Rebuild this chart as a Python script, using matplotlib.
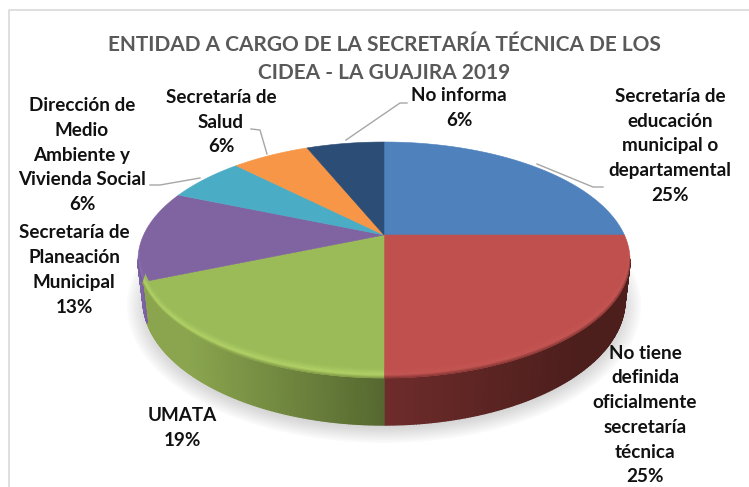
import numpy as np
import matplotlib
matplotlib.use("Agg")
import matplotlib.pyplot as plt
from matplotlib.patches import Polygon, Ellipse

# datos (16 CIDEA, en orden horario desde arriba)
categorias = [
    "Secretaría de\neducación\nmunicipal o\ndepartamental",
    "No tiene\ndefinida\noficialmente\nsecretaría\ntécnica",
    "UMATA",
    "Secretaría de\nPlaneación\nMunicipal",
    "Dirección de\nMedio\nAmbiente y\nVivienda Social",
    "Secretaría de\nSalud",
    "No informa",
]
valores = [4, 4, 3, 2, 1, 1, 1]
colores = ["#4f81bd", "#c0504d", "#9bbb59", "#8064a2", "#4bacc6", "#f79646", "#2c4d75"]
titulo = "ENTIDAD A CARGO DE LA SECRETARÍA TÉCNICA DE LOS\nCIDEA - LA GUAJIRA 2019"

# posicion de cada etiqueta (centro, en pixeles)
pos_etiquetas = [(670, 146), (645, 415), (182, 428), (74, 270), (82, 155), (221, 122), (459, 108)]
guias = [
    [(537, 164), (593, 187), (603, 187)],
    None,
    None,
    None,
    [(200, 178), (160, 185), (150, 185)],
    [(267, 154), (260, 130), (251, 129)],
    [(346, 140), (400, 103), (407, 103)],
]

CX, CY, RX, RY = 384, 260, 246, 118
CY_B, RX_B, RY_B = 300, 241, 125
A = 25 / 118  # corrimiento del centro por la perspectiva


def proyectar(theta):
    # theta en radianes desde arriba, sentido horario; devuelve coords en la elipse
    x, y = np.sin(theta), np.cos(theta)
    den = 1 + A * y
    return x * np.sqrt(1 - A ** 2) / den, (y + A) / den


def mezclar(c1, c2, t):
    c1 = np.array(matplotlib.colors.to_rgb(c1))
    c2 = np.array(matplotlib.colors.to_rgb(c2))
    return tuple(c1 + (c2 - c1) * t)


def arco(ni, nj, u=0.0):
    # puntos del borde a nivel de bisel u (0 = borde, 1 = cara plana)
    return np.column_stack([CX + (RX - 3 * u) * ni, CY - 8 * u - (RY - 2 * u) * nj])


fig = plt.figure(figsize=(7.49, 4.87), dpi=100)
ax = fig.add_axes([0, 0, 1, 1])
ax.set_xlim(0, 749)
ax.set_ylim(487, 0)
ax.axis("off")

# marco del grafico
ax.plot([9, 9, 749], [487, 10, 10], color="#d9d9d9", lw=1.2)

# sombra
for k in range(14):
    ax.add_patch(Ellipse((CX, CY_B + 6), 2 * (RX_B + 16 - k * 2), 2 * (RY_B + 12 - k * 1.6),
                         color="#7f7f7f", alpha=0.03, lw=0))

fracciones = np.cumsum([0] + valores) / sum(valores)
angulos = fracciones * 2 * np.pi

# pared lateral
pared = {
    1: ("#6e2c2b", "#4c1e1c"),
    2: ("#566830", "#8aa54e"),
    3: ("#7a60a0", "#8f72b5"),
}
for i, (c_ini, c_fin) in pared.items():
    ts = np.linspace(angulos[i], angulos[i + 1], 160)
    nx, ny = proyectar(ts)
    for j in range(len(ts) - 1):
        if ny[j] > 0 and ny[j + 1] > 0:
            continue
        arriba = np.array([[CX + RX * nx[j], CY - RY * ny[j]],
                           [CX + RX * nx[j + 1], CY - RY * ny[j + 1]]])
        abajo = np.array([[CX + RX_B * nx[j + 1], CY_B - RY_B * ny[j + 1]],
                          [CX + RX_B * nx[j], CY_B - RY_B * ny[j]]])
        t = min(abs(nx[j]) * 1.25, 1) if i != 3 else (j / len(ts))
        col = mezclar(c_ini, c_fin, t)
        ax.add_patch(Polygon(np.vstack([arriba, abajo]), fc=col, ec=col, lw=1.0))

# caras superiores
for i, col in enumerate(colores):
    ts = np.linspace(angulos[i], angulos[i + 1], 120)
    nx, ny = proyectar(ts)
    borde = arco(nx, ny)
    pts = np.vstack([[CX, CY - RY * A], borde])
    ax.add_patch(Polygon(pts, fc=col, ec=col, lw=0.4))

# bisel del borde frontal
luces = {1: "#c45653", 2: "#b4d368", 3: "#8a6dae"}
oscuros = {1: "#7e3432", 2: "#7d9745", 3: "#6a5590"}
niveles = np.linspace(0, 1, 13)
for i in luces:
    ts = np.linspace(angulos[i], angulos[i + 1], 160)
    nx, ny = proyectar(ts)
    keep = ny < 0.02
    nx, ny = nx[keep], ny[keep]
    for k in range(len(niveles) - 1):
        u0, u1 = niveles[k], niveles[k + 1]
        um = (u0 + u1) / 2
        if um < 0.35:
            col = mezclar(oscuros[i], luces[i], um / 0.35)
        else:
            col = mezclar(luces[i], colores[i], (um - 0.35) / 0.65)
        pts = np.vstack([arco(nx, ny, u0), arco(nx, ny, u1)[::-1]])
        ax.add_patch(Polygon(pts, fc=col, ec=col, lw=0.2))

# guias de las etiquetas
for g in guias:
    if g is not None:
        ax.plot([p[0] for p in g], [p[1] for p in g], color="#a6a6a6", lw=1)

# etiquetas
total = sum(valores)
for nombre, v, (x, y) in zip(categorias, valores, pos_etiquetas):
    pct = int(100 * v / total + 0.5)
    ax.text(x, y, f"{nombre}\n{pct}%", ha="center", va="center", fontsize=13.6,
            fontweight="bold", family="Lato", color="#111111", linespacing=1.55)

ax.text(384, 59, titulo, ha="center", va="center", fontsize=15, fontweight="bold",
        family="Lato", color="#595959", linespacing=1.53)

fig.savefig("out.png", dpi=100)
